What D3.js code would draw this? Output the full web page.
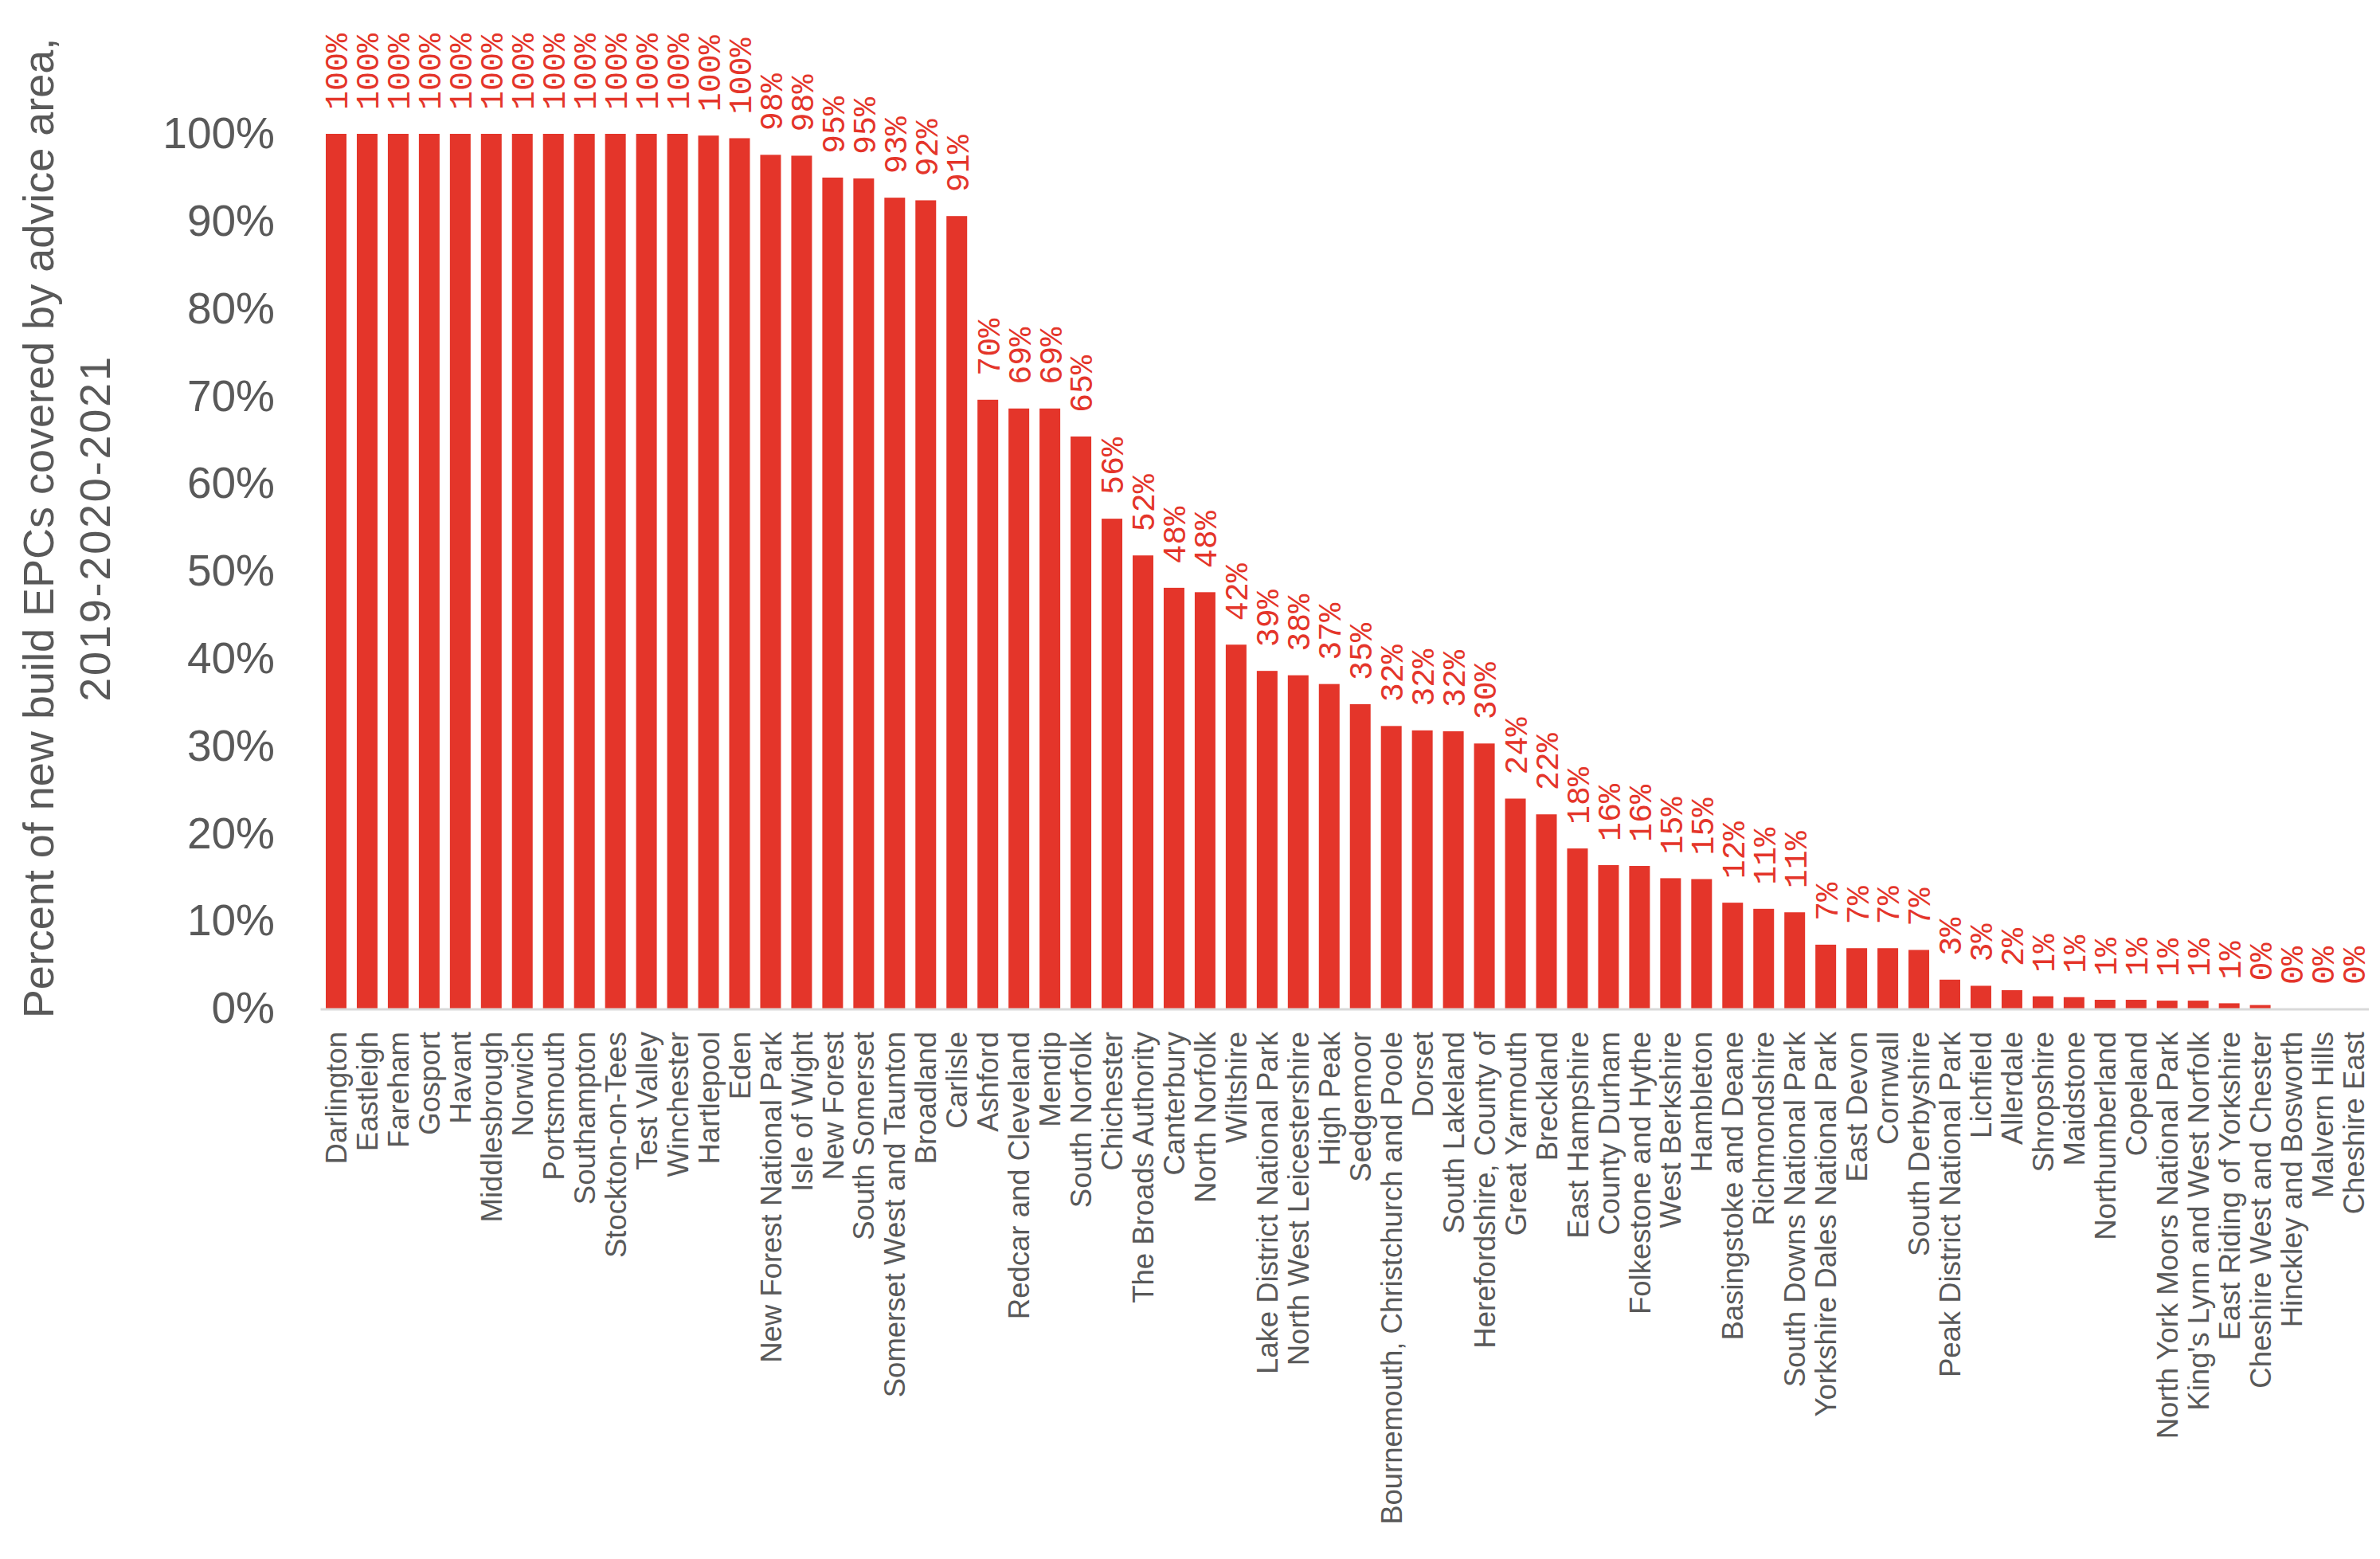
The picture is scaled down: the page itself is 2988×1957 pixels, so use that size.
<!DOCTYPE html>
<html lang="en">
<head>
  <meta charset="UTF-8">
  <title>New build EPCs covered by advice area</title>
  <script src="https://d3js.org/d3.v7.min.js"></script>
  <style>
    body {
      margin: 0;
      background: #fff;
    }
    svg {
      display: block;
    }
  </style>
</head>
<body>
  <svg width="2988" height="1957"></svg>

  <script>
    const areas = [
      "Darlington", "Eastleigh", "Fareham", "Gosport", "Havant", "Middlesbrough",
      "Norwich", "Portsmouth", "Southampton", "Stockton-on-Tees", "Test Valley",
      "Winchester", "Hartlepool", "Eden", "New Forest National Park", "Isle of Wight",
      "New Forest", "South Somerset", "Somerset West and Taunton", "Broadland",
      "Carlisle", "Ashford", "Redcar and Cleveland", "Mendip", "South Norfolk",
      "Chichester", "The Broads Authority", "Canterbury", "North Norfolk", "Wiltshire",
      "Lake District National Park", "North West Leicestershire", "High Peak",
      "Sedgemoor", "Bournemouth, Christchurch and Poole", "Dorset", "South Lakeland",
      "Herefordshire, County of", "Great Yarmouth", "Breckland", "East Hampshire",
      "County Durham", "Folkestone and Hythe", "West Berkshire", "Hambleton",
      "Basingstoke and Deane", "Richmondshire", "South Downs National Park",
      "Yorkshire Dales National Park", "East Devon", "Cornwall", "South Derbyshire",
      "Peak District National Park", "Lichfield", "Allerdale", "Shropshire",
      "Maidstone", "Northumberland", "Copeland", "North York Moors National Park",
      "King's Lynn and West Norfolk", "East Riding of Yorkshire",
      "Cheshire West and Chester", "Hinckley and Bosworth", "Malvern Hills",
      "Cheshire East"
    ];

    // percent of new build EPCs covered
    const coverage = [
      100, 100, 100, 100, 100, 100,
      100, 100, 100, 100, 100,
      100, 99.8, 99.5, 97.6, 97.5,
      95.0, 94.9, 92.7, 92.4,
      90.6, 69.6, 68.6, 68.6, 65.4,
      56.0, 51.8, 48.1, 47.6, 41.6,
      38.6, 38.1, 37.1,
      34.8, 32.3, 31.8, 31.7,
      30.3, 24.0, 22.2, 18.3,
      16.4, 16.3, 14.9, 14.8,
      12.1, 11.4, 11.0,
      7.3, 6.9, 6.9, 6.7,
      3.3, 2.6, 2.1, 1.4,
      1.3, 1.0, 1.0, 0.9,
      0.9, 0.6,
      0.4, 0, 0,
      0
    ];

    const yTicks = [0, 10, 20, 30, 40, 50, 60, 70, 80, 90, 100];
    const titleLines = ["Percent of new build EPCs covered by advice area,", "2019-2020-2021"];

    const red = "#e4352a";
    const grey = "#595959";
    const sans = "Liberation Sans, Arial, sans-serif";

    const svg = d3.select("svg");

    const x = d3.scaleBand()
      .domain(areas)
      .range([402.5, 2974])
      .paddingInner(0.333)
      .paddingOuter(0.1667);

    const y = d3.scaleLinear()
      .domain([0, 100])
      .range([1266, 168]);

    // y axis labels
    const yAxis = d3.axisLeft(y)
      .tickValues(yTicks)
      .tickFormat(d => d + "%")
      .tickSize(0)
      .tickPadding(0);

    const yg = svg.append("g")
      .attr("transform", "translate(345,0)")
      .call(yAxis);
    yg.select(".domain").remove();
    yg.selectAll("text")
      .attr("font-family", sans)
      .attr("font-size", 55)
      .attr("fill", grey);

    // y axis title, two lines
    svg.append("text")
      .attr("transform", "translate(0,663) rotate(-90)")
      .attr("text-anchor", "middle")
      .attr("font-family", sans)
      .attr("font-size", 54)
      .attr("fill", grey)
      .selectAll("tspan")
      .data(titleLines)
      .join("tspan")
      .attr("x", 0)
      .attr("y", (d, i) => i === 0 ? 67 : 138)
      .attr("letter-spacing", (d, i) => i === 0 ? 0 : 2.8)
      .text(d => d);

    // bars
    svg.append("g")
      .selectAll("rect")
      .data(areas)
      .join("rect")
      .attr("x", d => x(d))
      .attr("width", x.bandwidth())
      .attr("y", (d, i) => y(coverage[i]))
      .attr("height", (d, i) => y(0) - y(coverage[i]))
      .attr("fill", red);

    // baseline
    svg.append("line")
      .attr("x1", x.range()[0])
      .attr("x2", x.range()[1])
      .attr("y1", y(0) + 1)
      .attr("y2", y(0) + 1)
      .attr("stroke", "#d9d9d9")
      .attr("stroke-width", 3);

    // value labels
    svg.append("g")
      .selectAll("text")
      .data(areas)
      .join("text")
      .attr("transform", (d, i) =>
        `translate(${x(d) + x.bandwidth() / 2},${y(coverage[i]) - 30}) rotate(-90)`)
      .attr("dy", "0.36em")
      .attr("font-family", "Liberation Mono, DejaVu Sans Mono, monospace")
      .attr("font-size", 40)
      .attr("fill", red)
      .text((d, i) => Math.round(coverage[i]) + "%");

    // category labels
    svg.append("g")
      .selectAll("text")
      .data(areas)
      .join("text")
      .attr("transform", d =>
        `translate(${x(d) + x.bandwidth() / 2},1295) rotate(-90)`)
      .attr("dy", "0.36em")
      .attr("text-anchor", "end")
      .attr("font-family", sans)
      .attr("font-size", 36.5)
      .attr("fill", grey)
      .text(d => d);
  </script>
</body>
</html>
